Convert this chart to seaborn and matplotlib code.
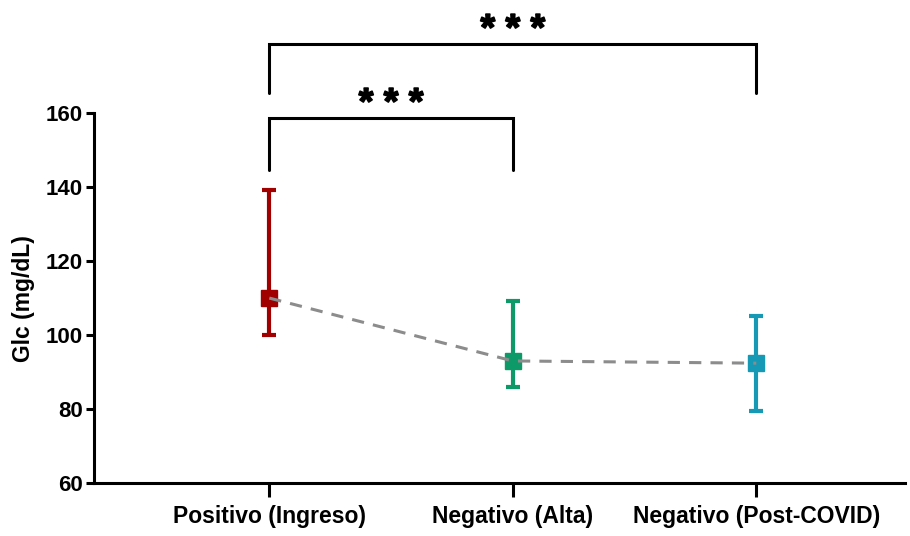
import matplotlib
matplotlib.use('Agg')
import matplotlib.pyplot as plt
import matplotlib.patheffects as pe
import seaborn as sns
import pandas as pd

# Data
groups = ['Positivo (Ingreso)', 'Negativo (Alta)', 'Negativo (Post-COVID)']
means = [110.0, 93.0, 92.4]
lower = [100.0, 85.9, 79.5]
upper = [139.2, 109.2, 105.2]
colors = ['#A00000', '#0D9A68', '#1599B5']

# significance brackets: (from group, to group, bracket top, leg bottom, label)
brackets = [(0, 1, 158.6, 144.6, '* * *'), (0, 2, 178.6, 165.4, '* * *')]

sns.set_style('ticks')
plt.rcParams['font.family'] = ['Liberation Sans', 'DejaVu Sans']
plt.rcParams['font.weight'] = 'bold'

df = pd.DataFrame({'x': range(len(groups)), 'y': means})

fig = plt.figure(figsize=(9.1, 5.36), dpi=100)
ax = fig.add_axes([0.1033, 0.0989, 0.891, 0.690])

sns.lineplot(data=df, x='x', y='y', ax=ax, color='#8C8C8C', lw=2.2,
             linestyle=(0, (4, 3)), zorder=3)

for i, (m, lo, hi, c) in enumerate(zip(means, lower, upper, colors)):
    ax.errorbar(i, m, yerr=[[m - lo], [hi - m]], fmt='none', ecolor=c,
                elinewidth=3, capsize=5, capthick=3, zorder=2)
    ax.plot(i, m, marker='s', ms=11.5, color=c, zorder=2.5, ls='none')

for a, b, top, leg, lab in brackets:
    ax.plot([a, a, b, b], [leg, top, top, leg], color='black', lw=2.2,
            clip_on=False, solid_joinstyle='miter')
    ax.text((a + b) / 2, top + 1.2, lab, ha='center', va='baseline',
            fontsize=27, fontweight='bold', color='black', clip_on=False,
            path_effects=[pe.withStroke(linewidth=1.2, foreground='black')])

ax.set_xlim(-0.72, 2.61)
ax.set_ylim(60, 160)
ax.set_yticks([60, 80, 100, 120, 140, 160])
ax.set_xticks(range(len(groups)))
ax.set_xticklabels(groups, fontsize=16.5, fontweight='bold', color='black')
ax.tick_params(axis='y', labelsize=16, width=2.2, length=6, pad=2,
               labelcolor='black', color='black')
ax.tick_params(axis='x', width=2.2, length=10, pad=6, color='black')
for t in ax.get_yticklabels():
    t.set_fontweight('bold')
ax.set_xlabel('')
ax.set_ylabel('Glc (mg/dL)', fontsize=16.5, fontweight='bold', color='black',
              labelpad=8)
for s in ['left', 'bottom']:
    ax.spines[s].set_linewidth(2.2)
    ax.spines[s].set_color('black')
sns.despine(ax=ax)

fig.savefig('out.png', dpi=100)
